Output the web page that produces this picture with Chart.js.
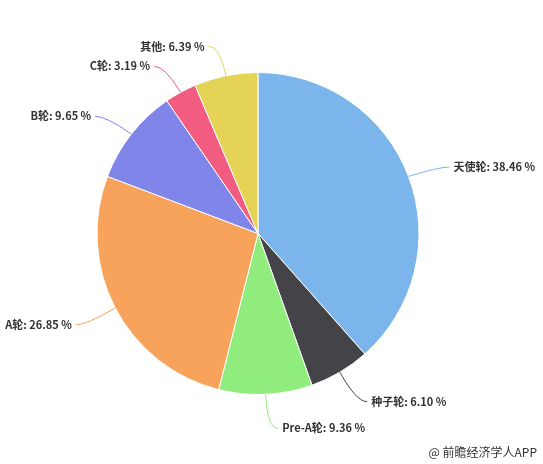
<!DOCTYPE html>
<html>
<head>
<meta charset="utf-8">
<script src="https://cdn.jsdelivr.net/npm/chart.js@4"></script>
<style>
  html, body { margin: 0; padding: 0; background: #fff; }
  #wrap { position: relative; width: 543px; height: 464px; }
  #foot { position: absolute; right: 6px; top: 443px; font: 12px "Noto Sans CJK SC", sans-serif; color: #333; }
</style>
</head>
<body>
<div id="wrap">
  <canvas id="pieChart" width="543" height="464"></canvas>
  <div id="foot">@ 前瞻经济学人APP</div>
</div>
<script>
// datos
const rondas = ['天使轮', '种子轮', 'Pre-A轮', 'A轮', 'B轮', 'C轮', '其他'];
const porcentajes = [38.46, 6.10, 9.36, 26.85, 9.65, 3.19, 6.39];
const colores = ['#7cb5ec', '#434348', '#90ed7d', '#f7a35c', '#8085e9', '#f15c80', '#e4d354'];

// etiquetas con linea conectora (estilo highcharts)
const etiquetas = {
    id: 'etiquetas',
    afterDatasetsDraw(chart) {
        const ctx = chart.ctx;
        const meta = chart.getDatasetMeta(0);
        ctx.save();
        ctx.font = 'bold 11px "Noto Sans CJK SC", sans-serif';
        ctx.textBaseline = 'middle';
        meta.data.forEach((arc, i) => {
            const mid = (arc.startAngle + arc.endAngle) / 2;
            const r = arc.outerRadius;
            const cos = Math.cos(mid), sin = Math.sin(mid);
            const x0 = arc.x + cos * r, y0 = arc.y + sin * r;
            const x1 = arc.x + cos * (r + 32), y1 = arc.y + sin * (r + 32) + 2;
            const derecha = cos >= 0;
            const x2 = x1 + (derecha ? 11 : -11);
            ctx.strokeStyle = colores[i];
            ctx.lineWidth = 1;
            ctx.beginPath();
            ctx.moveTo(x0, y0);
            ctx.quadraticCurveTo(x1, y1, x2, y1);
            ctx.stroke();
            ctx.fillStyle = '#333';
            ctx.textAlign = derecha ? 'left' : 'right';
            const texto = rondas[i] + ': ' + porcentajes[i].toFixed(2) + ' %';
            ctx.fillText(texto, x2 + (derecha ? 4 : -4), y1);
        });
        ctx.restore();
    }
};

const ctxPie = document.getElementById('pieChart').getContext('2d');
const pieChart = new Chart(ctxPie, {
    type: 'pie',
    data: {
        labels: rondas,
        datasets: [{
            data: porcentajes,
            backgroundColor: colores,
            borderColor: '#ffffff',
            borderWidth: 1
        }]
    },
    options: {
        responsive: false,
        animation: false,
        radius: 161,
        layout: { padding: { left: 0, right: 27, top: 3, bottom: 0 } },
        plugins: {
            legend: { display: false },
            tooltip: { enabled: false }
        }
    },
    plugins: [etiquetas]
});
</script>
</body>
</html>
